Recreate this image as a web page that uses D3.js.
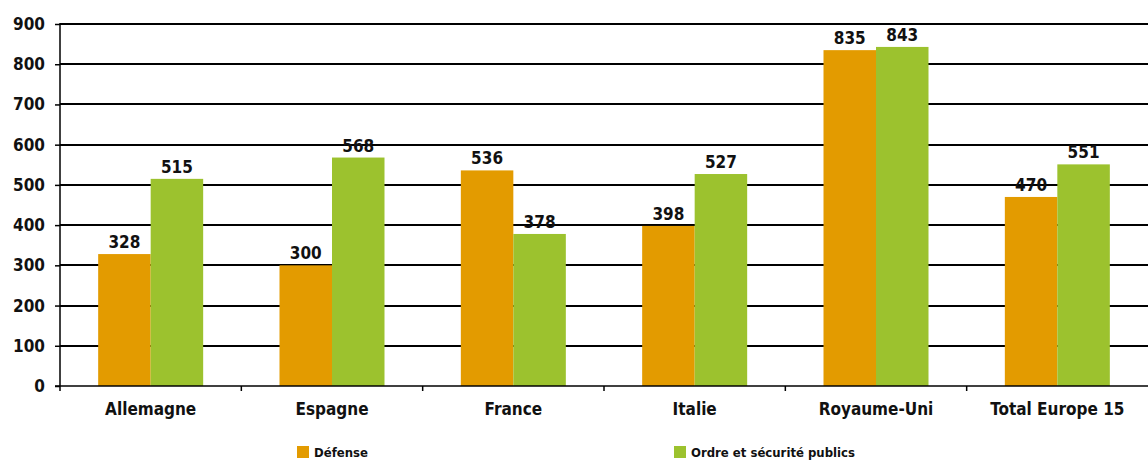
<!DOCTYPE html>
<html>
<head>
<meta charset="utf-8">
<title></title>
<script src="https://cdn.jsdelivr.net/npm/d3@7/dist/d3.min.js"></script>
<style>
  body { margin: 0; background: #fff; }
  svg text {
    font-family: "DejaVu Sans Condensed", "DejaVu Sans", sans-serif;
    font-stretch: condensed;
    font-weight: bold;
    fill: #111;
  }
  .grid line { stroke: #000; stroke-width: 1.3; shape-rendering: crispEdges; }
</style>
</head>
<body>
<script>
  var categories = ["Allemagne", "Espagne", "France", "Italie", "Royaume-Uni", "Total Europe 15"];
  var seriesNames = ["Défense", "Ordre et sécurité publics"];
  var defense = [328, 300, 536, 398, 835, 470];
  var ordre = [515, 568, 378, 527, 843, 551];
  var yTicks = [0, 100, 200, 300, 400, 500, 600, 700, 800, 900];
  var colors = ["#E39B00", "#9CC22E"];

  var w = 1148, h = 462;
  var mLeft = 60, mRight = 1148, mTop = 24, mBottom = 386;

  var svg = d3.select("body").append("svg")
    .attr("width", w)
    .attr("height", h);

  var x = d3.scaleBand().domain(categories).range([mLeft, mRight]);
  var y = d3.scaleLinear().domain([0, 900]).range([mBottom, mTop]);
  var groupW = 105;
  var x1 = d3.scaleBand().domain([0, 1]).range([0, groupW]);

  // gridlines
  svg.append("g").attr("class", "grid")
    .selectAll("line").data(yTicks.slice(1)).join("line")
    .attr("x1", mLeft).attr("x2", mRight)
    .attr("y1", function (d) { return Math.round(y(d)); })
    .attr("y2", function (d) { return Math.round(y(d)); });

  var data = categories.map(function (c, i) {
    return { cat: c, vals: [defense[i], ordre[i]] };
  });

  var groups = svg.append("g").selectAll("g").data(data).join("g")
    .attr("transform", function (d) {
      return "translate(" + (x(d.cat) + x.bandwidth() / 2 - groupW / 2) + ",0)";
    });

  groups.selectAll("rect").data(function (d) { return d.vals; }).join("rect")
    .attr("x", function (d, i) { return x1(i); })
    .attr("width", x1.bandwidth())
    .attr("y", function (d) { return y(d); })
    .attr("height", function (d) { return y(0) - y(d); })
    .attr("fill", function (d, i) { return colors[i]; });

  groups.selectAll("text").data(function (d) { return d.vals; }).join("text")
    .attr("x", function (d, i) { return x1(i) + x1.bandwidth() / 2; })
    .attr("y", function (d) { return y(d) - 6; })
    .attr("text-anchor", "middle")
    .style("font-size", "17px")
    .text(function (d) { return d; });

  // y axis
  var yAxis = d3.axisLeft(y).tickValues(yTicks).tickSize(5).tickPadding(10);
  var gy = svg.append("g").attr("transform", "translate(" + mLeft + ",0)").call(yAxis);
  gy.selectAll("text").style("font-size", "17px").attr("font-family", null);
  gy.attr("font-family", null).attr("font-size", null);
  gy.selectAll("line, path").attr("stroke", "#000").attr("stroke-width", 1.5);
  gy.select("path").attr("d", "M0," + (mTop - 1) + "V" + mBottom);

  // x axis
  var gx = svg.append("g").attr("transform", "translate(0," + mBottom + ")");
  gx.append("line").attr("x1", mLeft - 5).attr("x2", mRight)
    .attr("stroke", "#000").attr("stroke-width", 1.5);
  gx.selectAll(".tk").data(categories).join("line").attr("class", "tk")
    .attr("x1", function (d) { return x(d); }).attr("x2", function (d) { return x(d); })
    .attr("y1", 0).attr("y2", 5).attr("stroke", "#000").attr("stroke-width", 1.5);
  gx.selectAll("text").data(categories).join("text")
    .attr("x", function (d) { return x(d) + x.bandwidth() / 2; })
    .attr("y", 29)
    .attr("text-anchor", "middle")
    .style("font-size", "17px")
    .text(function (d) { return d; });

  // legend
  var legX = [297, 674];
  var leg = svg.append("g").selectAll("g").data(seriesNames).join("g")
    .attr("transform", function (d, i) { return "translate(" + legX[i] + ",446)"; });
  leg.append("rect").attr("width", 12).attr("height", 12)
    .attr("fill", function (d, i) { return colors[i]; });
  leg.append("text").attr("x", 17).attr("y", 11)
    .style("font-size", "13px")
    .text(function (d) { return d; });
</script>
</body>
</html>
